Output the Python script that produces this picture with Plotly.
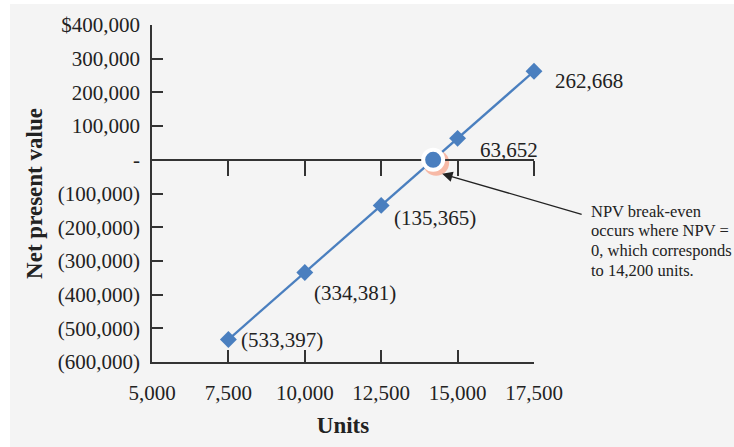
import plotly.graph_objects as go

units = [7500, 10000, 12500, 15000, 17500]
npv = [-533397, -334381, -135365, 63652, 262668]
breakeven_units = [14200]
breakeven_npv = [0]

x_ticks = [5000, 7500, 10000, 12500, 15000, 17500]
x_ticklabels = ["5,000", "7,500", "10,000", "12,500", "15,000", "17,500"]
y_ticks = [400000, 300000, 200000, 100000, 0, -100000, -200000, -300000, -400000, -500000, -600000]
y_ticklabels = ["$400,000", "300,000", "200,000", "100,000", "-", "(100,000)", "(200,000)",
                "(300,000)", "(400,000)", "(500,000)", "(600,000)"]
callout_lines = ["NPV break-even", "occurs where NPV =", "0, which corresponds", "to 14,200 units."]

# label offsets in pixels (style only)
label_shifts = [(11, 0), (7, -21), (11, -13), (20, -12), (19, -10)]

FONT = "Liberation Serif"
BLUE = "#4a7fbf"
AX = "#333333"
BG = "#f4f4f4"


def fmt(v):
    s = f"{abs(v):,}"
    return f"({s})" if v < 0 else s


fig = go.Figure()
fig.add_trace(go.Scatter(
    x=units, y=npv, mode="lines+markers",
    line=dict(color=BLUE, width=2.3),
    marker=dict(symbol="diamond", size=13, color=BLUE),
    cliponaxis=False, hoverinfo="skip", showlegend=False))
fig.add_trace(go.Scatter(
    x=breakeven_units, y=breakeven_npv, mode="markers", xaxis="x2",
    marker=dict(symbol="circle", size=20, color=BLUE, line=dict(color="white", width=4)),
    cliponaxis=False, hoverinfo="skip", showlegend=False))

# shadow of break-even marker
fig.add_shape(type="circle", xref="x", yref="y", xsizemode="pixel", ysizemode="pixel",
              xanchor=breakeven_units[0], yanchor=breakeven_npv[0],
              x0=-10, x1=16, y0=-16, y1=10, fillcolor="#f7b9a6", line=dict(width=0), layer="below")

# white page margins around the grey panel
fig.add_shape(type="rect", xref="paper", yref="paper", x0=-0.40, x1=-0.3717, y0=-0.26, y1=1.08,
              fillcolor="white", line=dict(width=0), layer="below")
fig.add_shape(type="rect", xref="paper", yref="paper", x0=-0.40, x1=1.53, y0=1.0623, y1=1.08,
              fillcolor="white", line=dict(width=0), layer="below")

for u, v, (dx, dy) in zip(units, npv, label_shifts):
    fig.add_annotation(x=u, y=v, text=fmt(v), showarrow=False, xanchor="left", yanchor="middle",
                       xshift=dx, yshift=dy, font=dict(family=FONT, size=21, color="#222"))

# arrow to break-even point
fig.add_annotation(x=breakeven_units[0], y=breakeven_npv[0], xref="x", yref="y", text="",
                   showarrow=True, ax=141, ay=41, xshift=9, yshift=-14,
                   arrowhead=2, arrowsize=1.6, arrowwidth=1.3, arrowcolor="#222")
for i, line in enumerate(callout_lines):
    fig.add_annotation(x=1.144, y=0.448 - i * 0.0585, xref="paper", yref="paper", text=line,
                       showarrow=False, xanchor="left", yanchor="middle",
                       font=dict(family=FONT, size=16.5, color="#222"))

fig.update_layout(
    width=734, height=447,
    margin=dict(l=152, r=200, t=25, b=85),
    paper_bgcolor=BG, plot_bgcolor=BG,
    font=dict(family=FONT, size=21, color="#222"),
    xaxis=dict(range=[5000, 17500], tickvals=x_ticks, ticktext=x_ticklabels,
               showline=True, linecolor=AX, linewidth=1.5, ticks="inside", ticklen=12,
               tickcolor=AX, tickwidth=1.5, showgrid=False, zeroline=False,
               ticklabelstandoff=11,
               title=dict(text="<b>Units</b>", font=dict(size=23), standoff=13)),
    xaxis2=dict(range=[5000, 17500], overlaying="x", anchor="free", position=0.6, side="bottom",
                tickvals=x_ticks[1:], showticklabels=False, showline=True, linecolor=AX,
                linewidth=1.5, ticks="outside", ticklen=15, tickcolor=AX, tickwidth=1.5,
                showgrid=False, zeroline=False, layer="below traces"),
    yaxis=dict(range=[-600000, 400000], tickvals=y_ticks, ticktext=y_ticklabels,
               showline=True, linecolor=AX, linewidth=1.5, ticks="inside", ticklen=11,
               tickcolor=AX, tickwidth=1.5, showgrid=False, zeroline=False,
               ticklabelstandoff=6,
               title=dict(text="<b>Net present value</b>", font=dict(size=23), standoff=9)),
)

fig.write_html("out.html", config={"displayModeBar": False},
               post_script="document.body.style.margin='0';")
